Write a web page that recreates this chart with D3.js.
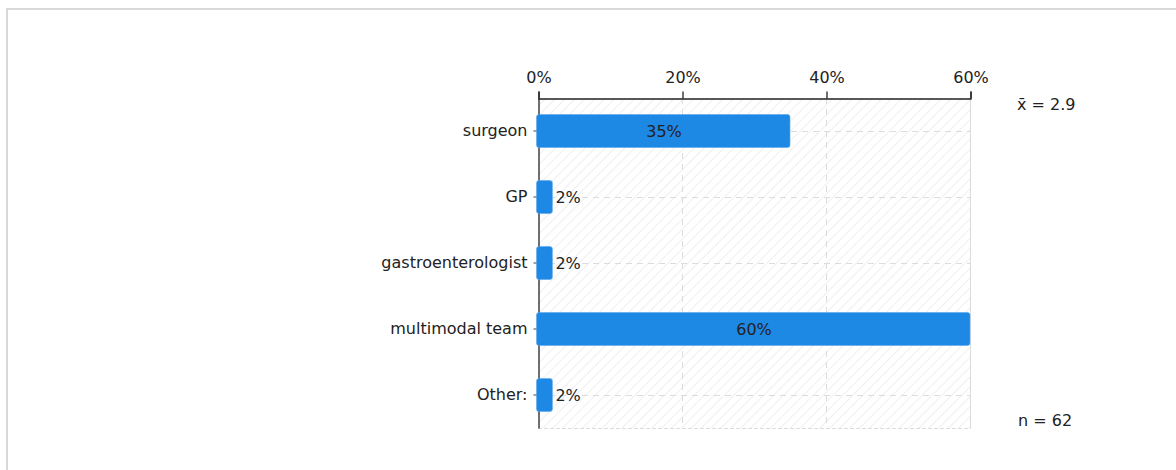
<!DOCTYPE html>
<html>
<head>
<meta charset="utf-8">
<script src="https://cdn.jsdelivr.net/npm/d3@7"></script>
<style>
  html, body { margin: 0; padding: 0; background: #fff; }
  svg { display: block; }
  text { font-family: "DejaVu Sans", sans-serif; fill: #222; }
</style>
</head>
<body>
<svg id="chart" width="1176" height="470"></svg>
<script>
// Survey answers: who should treat the patient (share of respondents, %)
const categories = ["surgeon", "GP", "gastroenterologist", "multimodal team", "Other:"];
const percentages = [35, 2, 2, 60, 2];
const tickValues = [0, 20, 40, 60];
const meanLabel = "x\u0304 = 2.9";
const countLabel = "n = 62";

const svg = d3.select("#chart");
const W = 1176, H = 470;
const plot = { left: 538, right: 970, top: 98, bottom: 428 };
const FS = 16;

// outer panel border (only top and left edges fall inside the view)
svg.append("rect")
  .attr("x", 7).attr("y", 9)
  .attr("width", W + 20).attr("height", H + 20)
  .attr("fill", "#fff")
  .attr("stroke", "#d9d9d9").attr("stroke-width", 2);

const x = d3.scaleLinear().domain([0, 60]).range([plot.left, plot.right]);
const y = d3.scaleBand().domain(categories)
  .range([plot.top, plot.bottom])
  .paddingInner(0.5).paddingOuter(0.25);

// diagonal hatch for the plot background
const defs = svg.append("defs");
const pat = defs.append("pattern")
  .attr("id", "hatch").attr("patternUnits", "userSpaceOnUse")
  .attr("width", 7).attr("height", 7)
  .attr("patternTransform", "rotate(45)");
pat.append("line").attr("x1", 0).attr("y1", 0).attr("x2", 0).attr("y2", 7)
  .attr("stroke", "#efefef").attr("stroke-width", 2);

svg.append("rect")
  .attr("x", plot.left).attr("y", plot.top)
  .attr("width", plot.right - plot.left).attr("height", plot.bottom - plot.top)
  .attr("fill", "url(#hatch)");

// grid lines
const grid = svg.append("g").attr("stroke", "#dcdcdc").attr("stroke-width", 1);
grid.selectAll("line.v").data(tickValues.slice(1, -1)).join("line")
  .attr("x1", d => x(d) + 0.5).attr("x2", d => x(d) + 0.5)
  .attr("y1", plot.top).attr("y2", plot.bottom)
  .attr("stroke-dasharray", "6,5");
grid.selectAll("line.h").data(categories).join("line")
  .attr("x1", plot.left).attr("x2", plot.right)
  .attr("y1", d => Math.round(y(d) + y.bandwidth() / 2) + 0.5)
  .attr("y2", d => Math.round(y(d) + y.bandwidth() / 2) + 0.5)
  .attr("stroke-dasharray", "6,5");
grid.append("line")
  .attr("x1", plot.left).attr("x2", plot.right)
  .attr("y1", plot.bottom + 0.5).attr("y2", plot.bottom + 0.5)
  .attr("stroke-dasharray", "4,2");
grid.append("line")
  .attr("x1", plot.right + 0.5).attr("x2", plot.right + 0.5)
  .attr("y1", plot.top).attr("y2", plot.bottom + 1);

// top axis
const xAxis = svg.append("g")
  .attr("transform", `translate(0.5,${plot.top + 0.5})`)
  .call(d3.axisTop(x).tickValues(tickValues).tickFormat(d => d + "%").tickSize(7).tickPadding(9));
xAxis.select(".domain").attr("stroke", "#222").attr("stroke-width", 1.3);
xAxis.selectAll(".tick line").attr("stroke", "#222").attr("stroke-width", 1.3);
xAxis.selectAll("text").attr("font-size", FS).attr("fill", "#222")
  .style("font-family", "'DejaVu Sans', sans-serif");

// left axis
const yAxis = svg.append("g")
  .attr("transform", `translate(${plot.left + 0.5},0)`)
  .call(d3.axisLeft(y).tickSize(5).tickSizeOuter(0).tickPadding(6));
yAxis.select(".domain").attr("stroke", "#222").attr("stroke-width", 1.3);
yAxis.selectAll(".tick line").attr("stroke", "#444");
yAxis.selectAll("text").attr("font-size", FS).attr("fill", "#222")
  .style("font-family", "'DejaVu Sans', sans-serif");

// bars
const rows = categories.map((c, i) => ({ c, v: percentages[i] }));
svg.append("g").selectAll("rect").data(rows).join("rect")
  .attr("x", x(0) - 1.5)
  .attr("y", d => y(d.c))
  .attr("width", d => x(d.v) - x(0) + 1.5)
  .attr("height", y.bandwidth())
  .attr("rx", 2.5)
  .attr("fill", "#1e88e5")
  .attr("stroke", "#5aa8ee").attr("stroke-width", 0.6);

// value labels: centred inside wide bars, to the right of narrow ones
svg.append("g").selectAll("text").data(rows).join("text")
  .attr("x", d => d.v >= 10 ? (x(0) + x(d.v)) / 2 : x(d.v) + 3)
  .attr("y", d => y(d.c) + y.bandwidth() / 2)
  .attr("dy", "0.35em")
  .attr("text-anchor", d => d.v >= 10 ? "middle" : "start")
  .attr("font-size", FS)
  .text(d => d.v + "%");

// summary statistics
svg.append("text").attr("x", 1017).attr("y", 110).attr("font-size", FS).text(meanLabel);
svg.append("text").attr("x", 1018).attr("y", 426).attr("font-size", FS).text(countLabel);
</script>
</body>
</html>
